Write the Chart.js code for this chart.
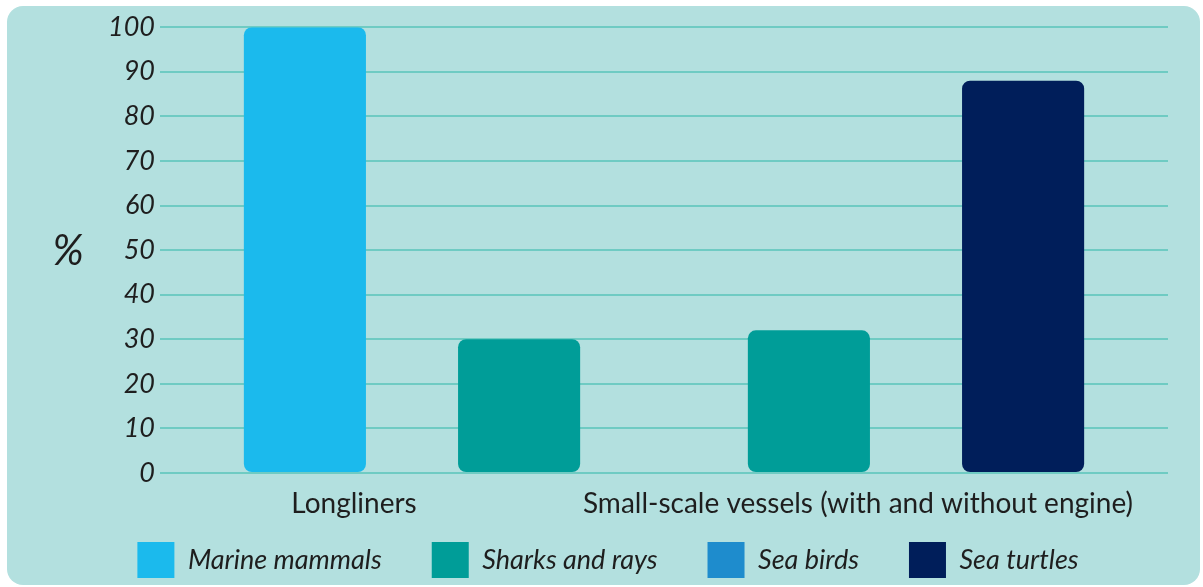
<!DOCTYPE html>
<html>
<head>
<meta charset="utf-8">
<script src="https://cdn.jsdelivr.net/npm/chart.js@4"></script>
<style>
  html, body { margin: 0; padding: 0; background: #ffffff; }
  #panel {
    position: absolute; left: 7px; top: 6px;
    width: 1193px; height: 579px;
    background: #b3e0df; border-radius: 16px; overflow: hidden;
  }
  #grafik { display: block; }
</style>
</head>
<body>
<div id="panel"><canvas id="grafik" width="1193" height="579"></canvas></div>
<script>
// Kategoriler ve seriler
const kategoriler = ['Longliners', 'Small-scale vessels (with and without engine)'];
const seriAdlari = ['Marine mammals', 'Sharks and rays', 'Sea birds', 'Sea turtles'];
const deniz_memelileri = [100, null];
const kopekbaligi_vatoz = [30, 32];
const deniz_kuslari = [null, null];
const deniz_kaplumbagalari = [null, 88];
const yEtiketleri = [0, 10, 20, 30, 40, 50, 60, 70, 80, 90, 100];

const renkler = ['#1bbaed', '#009d98', '#1e8ccd', '#001e5a'];
const yaziFont = 'Lato, "Open Sans", sans-serif';

const seriVerileri = [deniz_memelileri, kopekbaligi_vatoz, deniz_kuslari, deniz_kaplumbagalari];

const datasets = seriAdlari.map((ad, i) => ({
    label: ad,
    data: seriVerileri[i],
    backgroundColor: renkler[i],
    borderWidth: 0,
    borderRadius: 8,
    borderSkipped: false,
    categoryPercentage: 0.85,
    barPercentage: 0.57
}));

// Y ekseninin yanına dik duran "%" yazısı
const yuzdeEtiketi = {
    id: 'yuzdeEtiketi',
    afterDraw(chart) {
        const { ctx, chartArea } = chart;
        ctx.save();
        ctx.fillStyle = '#1e1e1e';
        ctx.font = 'italic 42px ' + yaziFont;
        ctx.textAlign = 'center';
        ctx.textBaseline = 'middle';
        ctx.fillText('%', 61, (chartArea.top + chartArea.bottom) / 2 + 1);
        ctx.restore();
    }
};

// X ekseni dar tutulduğu için etiket kırpma alanını aşağıya kadar aç
const xEtiketAlani = {
    id: 'xEtiketAlani',
    afterLayout(chart) {
        chart.scales.x.bottom = chart.height;
    }
};

new Chart(document.getElementById('grafik'), {
    type: 'bar',
    data: { labels: kategoriler, datasets: datasets },
    plugins: [yuzdeEtiketi, xEtiketAlani],
    options: {
        responsive: false,
        animation: false,
        skipNull: true,
        layout: { padding: { top: 14, right: 32, bottom: -3, left: 41 } },
        scales: {
            x: {
                afterFit: (scale) => {
                    scale.height = 19;
                    // uzun etiket grafik alanını daraltmasın
                    scale.paddingLeft = 0;
                    scale.paddingRight = 0;
                },
                grid: { display: false, drawTicks: false },
                border: { display: false },
                ticks: {
                    autoSkip: false,
                    maxRotation: 0,
                    minRotation: 0,
                    color: '#1e1e1e',
                    font: { family: yaziFont, size: 28 },
                    padding: 14,
                    labelOffset: -58
                }
            },
            y: {
                min: 0,
                max: 100,
                afterFit: (scale) => { scale.width = 112; },
                afterBuildTicks: (scale) => { scale.ticks = yEtiketleri.map(v => ({ value: v })); },
                grid: { color: '#6fcbc3', lineWidth: 2, drawTicks: false },
                border: { display: false },
                ticks: {
                    color: '#1e1e1e',
                    font: { family: yaziFont, size: 27, style: 'italic' },
                    padding: 5
                }
            }
        },
        plugins: {
            tooltip: { enabled: false },
            legend: {
                position: 'bottom',
                labels: {
                    boxWidth: 37,
                    boxHeight: 36,
                    padding: 50,
                    color: '#1e1e1e',
                    font: { family: yaziFont, size: 27, style: 'italic' }
                }
            }
        }
    }
});
</script>
</body>
</html>
